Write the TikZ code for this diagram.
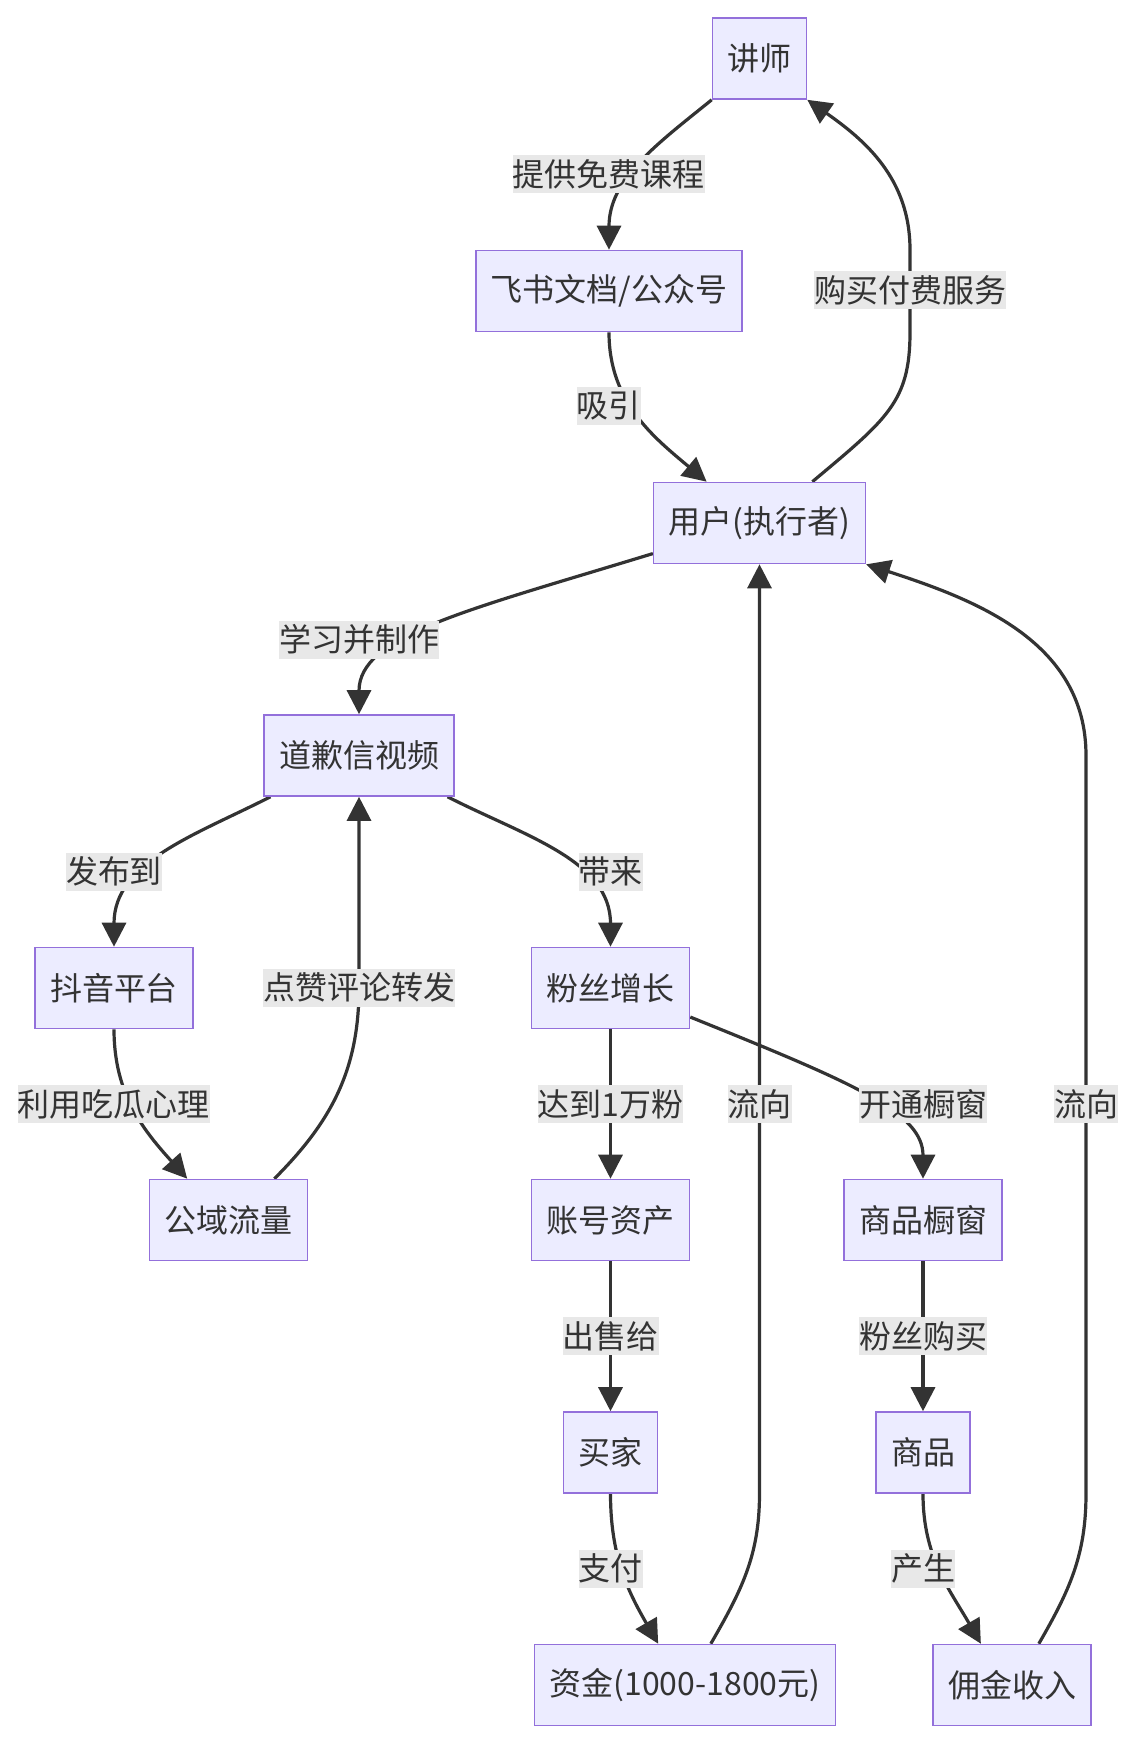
\documentclass[tikz,border=0pt]{standalone}
\usepackage{fontspec}
\newfontfamily\cjkfont{Noto Sans CJK SC}
\usetikzlibrary{arrows.meta,backgrounds}
\definecolor{boxcolor}{HTML}{ECECFF}
\definecolor{bordercolor}{HTML}{9370DB}
\definecolor{linkcolor}{HTML}{333333}
\definecolor{tagcolor}{HTML}{E8E8E8}
\tikzset{
  flow box/.style={draw=bordercolor,fill=boxcolor,line width=.8pt,minimum height=40.5pt,
    inner xsep=7.5pt,inner ysep=0pt,text=linkcolor},
  flow tag/.style={fill=tagcolor,inner sep=0pt,minimum height=19pt,text=linkcolor},
  flow link/.style={draw=linkcolor,line width=1.6pt,-{Triangle[length=12pt,width=12pt]}}
}

\begin{document}
\begin{tikzpicture}[x=.5pt,y=.5pt,font=\cjkfont\fontsize{16pt}{19pt}\selectfont]
  \useasboundingbox (0,0) rectangle (1136,-1742);
  \node[flow box] (lecturer) at (759.5,-58.5) {讲师};
  \node[flow box] (docs) at (609,-291) {飞书文档/公众号};
  \node[flow box] (user) at (759.5,-523) {用户(执行者)};
  \node[flow box] (video) at (359,-755.5) {道歉信视频};
  \node[flow box] (douyin) at (114,-988) {抖音平台};
  \node[flow box] (fans) at (610.5,-988) {粉丝增长};
  \node[flow box] (traffic) at (228.5,-1220) {公域流量};
  \node[flow box] (account) at (610.5,-1220) {账号资产};
  \node[flow box] (window) at (923,-1220) {商品橱窗};
  \node[flow box] (buyer) at (610.5,-1452.5) {买家};
  \node[flow box] (goods) at (923,-1452.5) {商品};
  \node[flow box] (money) at (685,-1685) {资金(1000-1800元)};
  \node[flow box] (income) at (1012,-1685) {佣金收入};

  \node[flow tag] (free) at (608.7,-174) {提供免费课程};
  \node[flow tag] (paid) at (910,-290) {购买付费服务};
  \node[flow tag] (attract) at (608.8,-406) {吸引};
  \node[flow tag] (learn) at (359,-639.5) {学习并制作};
  \node[flow tag] (post) at (114,-871.5) {发布到};
  \node[flow tag] (bring) at (610.5,-871.5) {带来};
  \node[flow tag] (like) at (359,-987.5) {点赞评论转发};
  \node[flow tag] (gossip) at (114,-1104) {利用吃瓜心理};
  \node[flow tag] (tenk) at (610.5,-1104) {达到1万粉};
  \node[flow tag] (flowa) at (759.5,-1104) {流向};
  \node[flow tag] (open) at (923,-1104) {开通橱窗};
  \node[flow tag] (flowb) at (1086,-1104) {流向};
  \node[flow tag] (sell) at (610.5,-1336) {出售给};
  \node[flow tag] (buy) at (923,-1336) {粉丝购买};
  \node[flow tag] (pay) at (610.5,-1568.5) {支付};
  \node[flow tag] (yield) at (923,-1568.5) {产生};

  \begin{scope}[on background layer]
    \draw[flow link] (lecturer.south west) to[out=219,in=90] (docs.north);
    \draw[flow link] (docs.south) to[out=-90,in=140] (user.142);
    \draw[flow link] (user.38) to[out=40,in=-90,out looseness=1.4] (paid.center |- docs.south)
      -- (paid.center |- docs.north) to[out=90,in=-35] (lecturer.south east);
    \draw[flow link] (user.196) to[out=197,in=90,out looseness=1.5,in looseness=.6] (video.north);
    \draw[flow link] (video.205) to[out=207,in=90] (douyin.north);
    \draw[flow link] (video.335) to[out=-27,in=90] (fans.north);
    \draw[flow link] (douyin.south) to[out=-90,in=132] (traffic.135);
    \draw[flow link] (traffic.42) to[out=45,in=-90] (like.center) -- (video.south);
    \draw[flow link] (fans) -- (account);
    \draw[flow link] (fans.340) to[out=-22,in=90,out looseness=1.6,in looseness=.6] (window.north);
    \draw[flow link] (account) -- (buyer);
    \draw[flow link] (window) -- (goods);
    \draw[flow link] (buyer.south) to[out=-90,in=120] (money.123);
    \draw[flow link] (goods.south) to[out=-90,in=120] (income.127);
    \draw[flow link] (money.58) to[out=60,in=-90] (flowa.center |- buyer.south) -- (user.south);
    \draw[flow link] (income.57) to[out=60,in=-90] (flowb.center |- goods.south)
      -- (flowb.center |- video.center) to[out=90,in=-18] (user.south east);
  \end{scope}
\end{tikzpicture}
\end{document}
